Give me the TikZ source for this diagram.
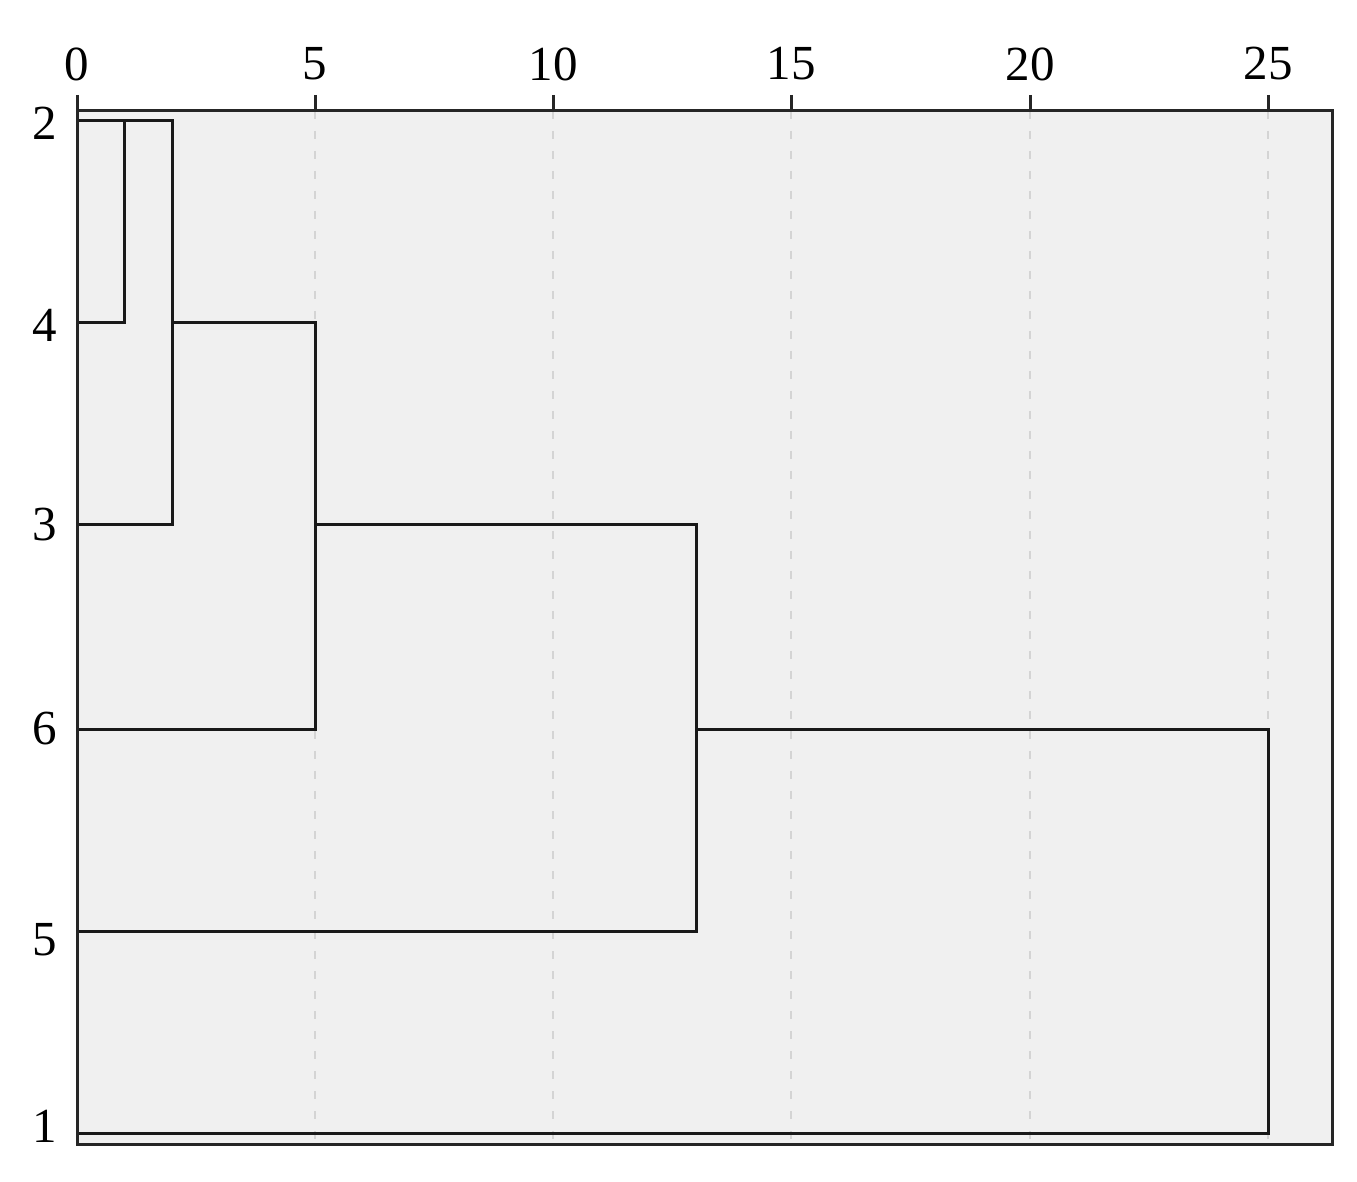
\documentclass[tikz,border=0pt]{standalone}
\usepackage{fontspec}
\setmainfont{Liberation Serif}
\begin{document}
\begin{tikzpicture}[x=0.5pt,y=-0.5pt,
  lbl/.style={font=\fontsize{24.5}{28}\selectfont, inner sep=0pt},
  link/.style={line width=1.5pt, black!90},
  gridline/.style={dash pattern=on 4pt off 6pt, line width=0.9pt, black!17},
  frame/.style={line width=1.5pt, black!85},
  tick/.style={line width=1.5pt, black!85},
]
\useasboundingbox (0,0) rectangle (1357,1182);
\fill[black!6] (77,111) rectangle (1332,1144);
% grid
\foreach \x in {315,553,791,1030,1268}
  \draw[gridline] (\x,111) -- (\x,1144);
% leaves
\coordinate (L2) at (77,121);
\coordinate (L4) at (77,323);
\coordinate (L3) at (77,525);
\coordinate (L6) at (77,729);
\coordinate (L5) at (77,931);
\coordinate (L1) at (77,1133);
% merge points
\coordinate (a2) at (124,121);
\coordinate (a4) at (124,323);
\coordinate (b2) at (172,121);
\coordinate (b4) at (172,323);
\coordinate (b3) at (172,525);
\coordinate (c4) at (315,323);
\coordinate (c3) at (315,525);
\coordinate (c6) at (315,729);
\coordinate (d3) at (696,525);
\coordinate (d6) at (696,729);
\coordinate (d5) at (696,931);
\coordinate (e6) at (1268,729);
\coordinate (e1) at (1268,1133);
% links
\draw[link] (L2) -- (a2) -- (a4) -- (L4);
\draw[link] (a2) -- (b2) -- (b3) -- (L3);
\draw[link] (b4) -- (c4) -- (c6) -- (L6);
\draw[link] (c3) -- (d3) -- (d5) -- (L5);
\draw[link] (d6) -- (e6) -- (e1) -- (L1);
% frame
\draw[frame] (77,111) rectangle (1332,1144);
% ticks and labels
\foreach \x/\t in {77/0,315/5,553/10,791/15,1030/20,1268/25} {
  \draw[tick] (\x,95) -- (\x,111);
  \node[lbl] (t\t) at (\x,64) {\t};
}
\node[lbl] (n2) at (45,123) {2};
\node[lbl] (n4) at (45,325) {4};
\node[lbl] (n3) at (45,525) {3};
\node[lbl] (n6) at (45,729) {6};
\node[lbl] (n5) at (45,940) {5};
\node[lbl] (n1) at (45,1126) {1};
\end{tikzpicture}
\end{document}
